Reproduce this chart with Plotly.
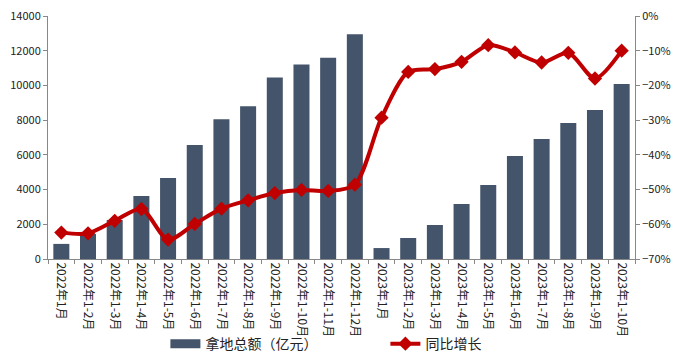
import plotly.graph_objects as go

categories = ["2022年1月", "2022年1-2月", "2022年1-3月", "2022年1-4月", "2022年1-5月",
              "2022年1-6月", "2022年1-7月", "2022年1-8月", "2022年1-9月", "2022年1-10月",
              "2022年1-11月", "2022年1-12月", "2023年1月", "2023年1-2月", "2023年1-3月",
              "2023年1-4月", "2023年1-5月", "2023年1-6月", "2023年1-7月", "2023年1-8月",
              "2023年1-9月", "2023年1-10月"]
land_amount = [870, 1440, 2250, 3630, 4670, 6570, 8050, 8800, 10450, 11200, 11600, 12950,
               630, 1210, 1960, 3170, 4260, 5930, 6910, 7830, 8580, 10080]
yoy_growth = [-0.624, -0.626, -0.590, -0.556, -0.644, -0.599, -0.555, -0.531, -0.510, -0.501,
              -0.504, -0.486, -0.293, -0.161, -0.153, -0.132, -0.084, -0.105, -0.134, -0.106,
              -0.180, -0.100]

font_family = "Noto Sans CJK SC, Noto Sans, sans-serif"
bar_color = "#44546A"
line_color = "#C00000"

fig = go.Figure()
fig.add_trace(go.Bar(
    x=categories, y=land_amount, name="拿地总额（亿元）", showlegend=False,
    marker=dict(color=bar_color, line=dict(width=0)),
))
# legend proxy for the bar series (wide rectangle swatch)
fig.add_trace(go.Scatter(
    x=[None], y=[None], name="拿地总额（亿元）", mode="lines",
    line=dict(color=bar_color, width=9),
))
fig.add_trace(go.Scatter(
    x=categories, y=yoy_growth, name="同比增长", yaxis="y2",
    mode="lines+markers",
    line=dict(color=line_color, width=4, shape="spline", smoothing=0.8),
    marker=dict(symbol="diamond", size=11, color=line_color),
))

fig.update_layout(
    width=693, height=360,
    margin=dict(l=48, r=58, t=16, b=101, autoexpand=False),
    paper_bgcolor="white", plot_bgcolor="white",
    font=dict(family=font_family, size=11, color="#222222"),
    bargap=0.4,
    showlegend=True,
    legend=dict(orientation="h", x=0.2, xanchor="left", y=-0.35, yanchor="middle",
                font=dict(size=14, color="#222222"), entrywidth=175,
                bgcolor="rgba(0,0,0,0)"),
    xaxis=dict(
        type="category", range=[-0.5, 21.5], tickangle=90, ticks="outside",
        tickson="boundaries", automargin=False,
        ticklen=4, tickcolor="#888888", showline=True, linecolor="#888888",
        showgrid=False, tickfont=dict(size=12),
    ),
    yaxis=dict(
        range=[0, 14000], dtick=2000, tickformat="d", ticks="outside", ticklen=4,
        tickcolor="#888888", automargin=False,
        showline=True, linecolor="#888888", showgrid=False, zeroline=False,
        tickfont=dict(size=11),
    ),
    yaxis2=dict(
        overlaying="y", side="right", range=[-0.7, 0], dtick=0.1, tickformat=".0%",
        ticks="outside", ticklen=4, tickcolor="#888888", automargin=False,
        showline=True, linecolor="#888888", showgrid=False, zeroline=False,
        tickfont=dict(size=11),
    ),
)

fig.write_html("out.html", config={"displayModeBar": False},
               post_script="document.body.style.margin='0';")
